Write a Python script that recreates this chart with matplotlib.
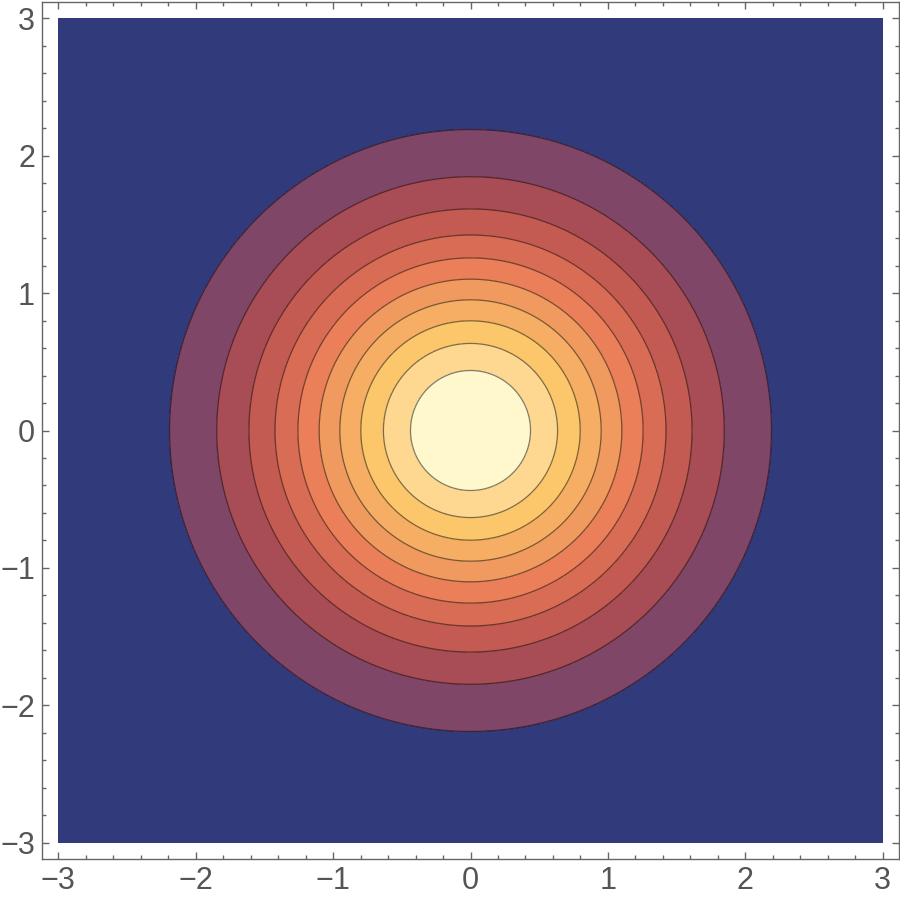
import numpy as np
import matplotlib
matplotlib.use("Agg")
import matplotlib.pyplot as plt
from matplotlib.ticker import MultipleLocator

# Data: f(x, y) = exp(-(x^2 + y^2) / 2) on [-3, 3] x [-3, 3]
x_range = [-3, 3]
y_range = [-3, 3]
n_contours = 10
contour_levels = [k / 11 for k in range(1, 11)]
band_colors = ["#313a7b", "#7f4668", "#a84d56", "#c35b52", "#d96c55", "#ea7f5a",
               "#f19a5f", "#f5ae64", "#fcc66a", "#fed890", "#fff8cd"]
tick_values = [-3, -2, -1, 0, 1, 2, 3]

xs = np.linspace(x_range[0], x_range[1], 801)
ys = np.linspace(y_range[0], y_range[1], 801)
X, Y = np.meshgrid(xs, ys)
Z = np.exp(-(X**2 + Y**2) / 2)

fig = plt.figure(figsize=(9, 8.98), dpi=100)
ax = fig.add_axes([42 / 900, 39 / 898, 857 / 900, 857 / 898])

fill_levels = [-0.01] + contour_levels + [1.01]
ax.contourf(X, Y, Z, levels=fill_levels, colors=band_colors)
ax.contour(X, Y, Z, levels=contour_levels, colors="black", linewidths=0.9, alpha=0.5)

pad = 16.2 / 137.4
ax.set_xlim(x_range[0] - pad, x_range[1] + pad)
ax.set_ylim(y_range[0] - pad, y_range[1] + pad)

ax.set_xticks(tick_values)
ax.set_yticks(tick_values)
ax.set_xticklabels([str(v).replace("-", "\u2212") for v in tick_values])
ax.set_yticklabels([str(v).replace("-", "\u2212") for v in tick_values])
ax.xaxis.set_minor_locator(MultipleLocator(0.2))
ax.yaxis.set_minor_locator(MultipleLocator(0.2))
ax.tick_params(which="both", direction="in", top=True, right=True, color="#666666", width=1.0)
ax.tick_params(which="major", length=5, labelsize=22, labelcolor="#555555", pad=5)
ax.tick_params(which="minor", length=3)
for lab in ax.get_xticklabels() + ax.get_yticklabels():
    lab.set_family("Liberation Sans")
for sp in ax.spines.values():
    sp.set_color("#666666")
    sp.set_linewidth(1.0)

fig.savefig("out.png", dpi=100)
